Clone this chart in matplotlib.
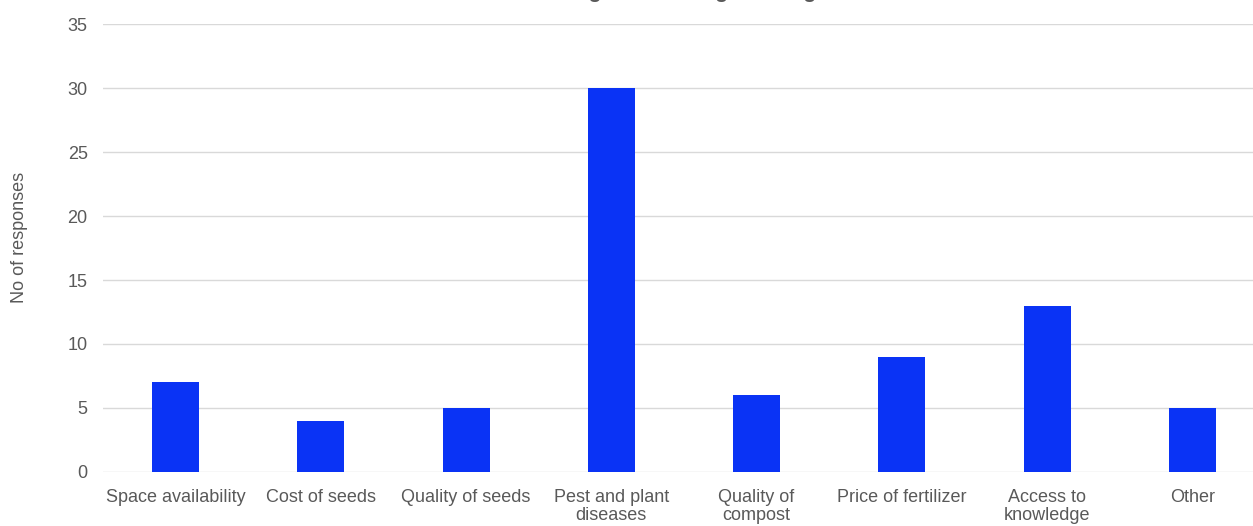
import matplotlib.pyplot as plt
import numpy as np

# Responses per challenge
categories = ["Space availability", "Cost of seeds", "Quality of seeds",
              "Pest and plant\ndiseases", "Quality of\ncompost",
              "Price of fertilizer", "Access to\nknowledge", "Other"]
responses = [7, 4, 5, 30, 6, 9, 13, 5]
yticks = [0, 5, 10, 15, 20, 25, 30, 35]

plt.rcParams['font.family'] = ['Liberation Sans', 'DejaVu Sans']

W, H = 1253, 526
fig = plt.figure(figsize=(W / 100, H / 100), dpi=100)
ax = fig.add_axes([103 / W, 1 - 472 / H, 1162 / W, 448 / H])

x = np.arange(len(categories))
ax.bar(x, responses, width=0.323, color="#0A33F5", zorder=3)

ax.set_xlim(-0.5, len(categories) - 0.5)
ax.set_ylim(0, 35)
ax.set_yticks(yticks)
ax.set_xticks(x)
ax.set_xticklabels(categories, fontsize=13, color="#595959", linespacing=1.1)
ax.tick_params(axis="y", labelsize=13, labelcolor="#595959", length=0, pad=11)
ax.tick_params(axis="x", length=0, pad=12)
ax.grid(axis="y", color="#D9D9D9", linewidth=1, zorder=0)
for side in ["top", "right", "left", "bottom"]:
    ax.spines[side].set_visible(False)

fig.text(20 / W, 1 - 237 / H, "No of responses", rotation=90, ha="center", va="center",
         fontsize=13, color="#595959")

# title sits above the top edge, only its descenders show
fig.text(0.53, 1.0 + 2 / H, "Challenges faced in gardening", ha="center", va="baseline",
         fontsize=15, fontweight="bold", color="#595959")

fig.savefig("out.png", dpi=100)
